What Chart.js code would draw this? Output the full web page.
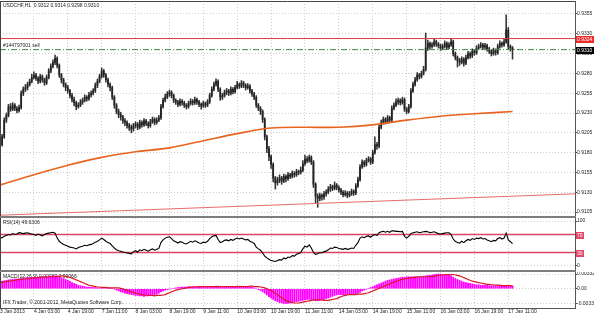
<!DOCTYPE html>
<html>
<head>
<meta charset="utf-8">
<script src="https://cdn.jsdelivr.net/npm/chart.js@4.4.0/dist/chart.umd.min.js"></script>
<style>
  html, body { margin: 0; padding: 0; background: #fff; }
  #wrap { position: relative; width: 594px; height: 316px; overflow: hidden; background: #fff; }
  canvas { position: absolute; left: 0; }
  .sep { position: absolute; left: 0; width: 576px; height: 2px; background: #7d7d7d; }
</style>
</head>
<body>
<div id="wrap">
  <canvas id="priceChart" style="top:0" width="594" height="216"></canvas>
  <div class="sep" style="top:216px"></div>
  <canvas id="rsiChart" style="top:218px" width="594" height="52"></canvas>
  <div class="sep" style="top:270px"></div>
  <canvas id="macdChart" style="top:272px" width="594" height="44"></canvas>
</div>
<script>
// USDCHF H1, 3 Jan 2013 - 17 Jan 2013, one entry per hourly bar
const symbol = 'USDCHF,H1';
const tickLabels = ['3 Jan 2013', '4 Jan 03:00', '4 Jan 19:00', '7 Jan 11:00', '8 Jan 03:00', '8 Jan 19:00',
    '9 Jan 11:00', '10 Jan 03:00', '10 Jan 19:00', '11 Jan 11:00', '14 Jan 03:00', '14 Jan 19:00',
    '15 Jan 11:00', '16 Jan 03:00', '16 Jan 19:00', '17 Jan 11:00'];
const barsPerTick = 16;
const priceTicks = [0.9105, 0.9130, 0.9155, 0.9180, 0.9205, 0.9230, 0.9255, 0.9280, 0.9305, 0.9330, 0.9355];

const opens = [
    0.9196, 0.9190, 0.9200, 0.9221, 0.9227, 0.9238, 0.9235, 0.9240, 0.9236, 0.9233,
    0.9237, 0.9255, 0.9260, 0.9262, 0.9266, 0.9270, 0.9275, 0.9278, 0.9274, 0.9270,
    0.9276, 0.9272, 0.9268, 0.9275, 0.9283, 0.9289, 0.9294, 0.9299, 0.9290, 0.9278,
    0.9272, 0.9266, 0.9262, 0.9258, 0.9252, 0.9247, 0.9243, 0.9238, 0.9240, 0.9244,
    0.9246, 0.9250, 0.9248, 0.9253, 0.9255, 0.9258, 0.9265, 0.9270, 0.9276, 0.9283,
    0.9278, 0.9272, 0.9266, 0.9262, 0.9250, 0.9240, 0.9232, 0.9228, 0.9225, 0.9220,
    0.9218, 0.9214, 0.9212, 0.9210, 0.9214, 0.9216, 0.9212, 0.9218, 0.9215, 0.9220,
    0.9217, 0.9214, 0.9219, 0.9222, 0.9218, 0.9221, 0.9224, 0.9238, 0.9246, 0.9250,
    0.9254, 0.9256, 0.9252, 0.9246, 0.9244, 0.9241, 0.9245, 0.9243, 0.9240, 0.9238,
    0.9242, 0.9245, 0.9243, 0.9247, 0.9244, 0.9241, 0.9239, 0.9242, 0.9240, 0.9244,
    0.9252, 0.9260, 0.9266, 0.9270, 0.9260, 0.9250, 0.9252, 0.9256, 0.9258, 0.9255,
    0.9260, 0.9257, 0.9262, 0.9266, 0.9264, 0.9268, 0.9265, 0.9262, 0.9264, 0.9258,
    0.9254, 0.9250, 0.9240, 0.9236, 0.9232, 0.9222, 0.9200, 0.9185, 0.9175, 0.9165,
    0.9148, 0.9142, 0.9145, 0.9148, 0.9144, 0.9150, 0.9147, 0.9152, 0.9150, 0.9154,
    0.9152, 0.9156, 0.9155, 0.9158, 0.9166, 0.9172, 0.9170, 0.9174, 0.9168, 0.9140,
    0.9125, 0.9122, 0.9126, 0.9124, 0.9128, 0.9130, 0.9134, 0.9137, 0.9135, 0.9139,
    0.9136, 0.9133, 0.9130, 0.9127, 0.9129, 0.9126, 0.9128, 0.9131, 0.9129, 0.9138,
    0.9146, 0.9162, 0.9168, 0.9165, 0.9170, 0.9172, 0.9168, 0.9180, 0.9190, 0.9188,
    0.9212, 0.9218, 0.9222, 0.9219, 0.9224, 0.9221, 0.9236, 0.9240, 0.9244, 0.9246,
    0.9243, 0.9247, 0.9235, 0.9232, 0.9238, 0.9258, 0.9266, 0.9272, 0.9278, 0.9276,
    0.9280, 0.9285, 0.9312, 0.9318, 0.9314, 0.9316, 0.9320, 0.9317, 0.9315, 0.9312,
    0.9314, 0.9318, 0.9313, 0.9316, 0.9320, 0.9305, 0.9300, 0.9296, 0.9294, 0.9298,
    0.9293, 0.9300, 0.9305, 0.9302, 0.9308, 0.9306, 0.9312, 0.9314, 0.9316, 0.9313,
    0.9315, 0.9311, 0.9308, 0.9305, 0.9309, 0.9306, 0.9314, 0.9318, 0.9316, 0.9320,
    0.9335, 0.9314, 0.9312
];
const highs = [
    0.9199, 0.9203, 0.9224, 0.9230, 0.9241, 0.9242, 0.9243, 0.9242, 0.9238, 0.9240,
    0.9258, 0.9263, 0.9266, 0.9269, 0.9273, 0.9279, 0.9282, 0.9280, 0.9276, 0.9279,
    0.9278, 0.9274, 0.9278, 0.9286, 0.9292, 0.9297, 0.9303, 0.9301, 0.9292, 0.9280,
    0.9274, 0.9268, 0.9265, 0.9260, 0.9255, 0.9250, 0.9245, 0.9243, 0.9247, 0.9249,
    0.9253, 0.9252, 0.9256, 0.9258, 0.9261, 0.9268, 0.9273, 0.9279, 0.9287, 0.9285,
    0.9280, 0.9274, 0.9268, 0.9264, 0.9252, 0.9242, 0.9235, 0.9231, 0.9227, 0.9223,
    0.9220, 0.9217, 0.9215, 0.9217, 0.9219, 0.9218, 0.9221, 0.9220, 0.9223, 0.9222,
    0.9219, 0.9222, 0.9225, 0.9224, 0.9224, 0.9227, 0.9241, 0.9249, 0.9254, 0.9257,
    0.9259, 0.9258, 0.9254, 0.9248, 0.9246, 0.9248, 0.9247, 0.9245, 0.9242, 0.9245,
    0.9248, 0.9247, 0.9250, 0.9249, 0.9246, 0.9243, 0.9245, 0.9244, 0.9247, 0.9255,
    0.9263, 0.9269, 0.9273, 0.9272, 0.9262, 0.9255, 0.9259, 0.9261, 0.9260, 0.9263,
    0.9262, 0.9265, 0.9270, 0.9268, 0.9271, 0.9270, 0.9267, 0.9267, 0.9266, 0.9260,
    0.9256, 0.9252, 0.9242, 0.9238, 0.9234, 0.9224, 0.9202, 0.9188, 0.9177, 0.9167,
    0.9150, 0.9149, 0.9152, 0.9150, 0.9153, 0.9152, 0.9155, 0.9154, 0.9157, 0.9156,
    0.9159, 0.9158, 0.9162, 0.9170, 0.9177, 0.9175, 0.9177, 0.9176, 0.9170, 0.9142,
    0.9128, 0.9129, 0.9128, 0.9131, 0.9133, 0.9137, 0.9140, 0.9139, 0.9143, 0.9141,
    0.9138, 0.9135, 0.9132, 0.9132, 0.9131, 0.9131, 0.9134, 0.9133, 0.9141, 0.9149,
    0.9165, 0.9171, 0.9170, 0.9173, 0.9175, 0.9174, 0.9183, 0.9200, 0.9193, 0.9215,
    0.9221, 0.9225, 0.9224, 0.9227, 0.9226, 0.9239, 0.9243, 0.9248, 0.9249, 0.9248,
    0.9250, 0.9249, 0.9237, 0.9241, 0.9261, 0.9269, 0.9275, 0.9281, 0.9280, 0.9283,
    0.9289, 0.9331, 0.9322, 0.9320, 0.9319, 0.9323, 0.9322, 0.9319, 0.9317, 0.9317,
    0.9321, 0.9320, 0.9319, 0.9324, 0.9322, 0.9307, 0.9302, 0.9299, 0.9301, 0.9300,
    0.9303, 0.9308, 0.9307, 0.9311, 0.9310, 0.9315, 0.9317, 0.9319, 0.9318, 0.9318,
    0.9317, 0.9313, 0.9310, 0.9312, 0.9311, 0.9317, 0.9321, 0.9320, 0.9323, 0.9354,
    0.9338, 0.9316, 0.9314
];
const lows = [
    0.9183, 0.9188, 0.9198, 0.9218, 0.9225, 0.9232, 0.9233, 0.9233, 0.9230, 0.9231,
    0.9235, 0.9252, 0.9257, 0.9259, 0.9264, 0.9268, 0.9273, 0.9271, 0.9267, 0.9268,
    0.9269, 0.9265, 0.9266, 0.9273, 0.9281, 0.9287, 0.9291, 0.9287, 0.9275, 0.9268,
    0.9263, 0.9258, 0.9255, 0.9249, 0.9244, 0.9239, 0.9234, 0.9236, 0.9238, 0.9241,
    0.9244, 0.9245, 0.9246, 0.9250, 0.9253, 0.9256, 0.9262, 0.9268, 0.9274, 0.9275,
    0.9269, 0.9263, 0.9258, 0.9247, 0.9236, 0.9229, 0.9224, 0.9221, 0.9217, 0.9214,
    0.9211, 0.9208, 0.9205, 0.9207, 0.9211, 0.9209, 0.9210, 0.9212, 0.9213, 0.9214,
    0.9211, 0.9212, 0.9217, 0.9215, 0.9216, 0.9219, 0.9222, 0.9236, 0.9244, 0.9248,
    0.9251, 0.9249, 0.9243, 0.9241, 0.9238, 0.9239, 0.9240, 0.9237, 0.9235, 0.9236,
    0.9240, 0.9240, 0.9241, 0.9241, 0.9238, 0.9235, 0.9237, 0.9237, 0.9238, 0.9242,
    0.9250, 0.9258, 0.9264, 0.9257, 0.9246, 0.9247, 0.9250, 0.9253, 0.9252, 0.9253,
    0.9254, 0.9255, 0.9260, 0.9261, 0.9262, 0.9262, 0.9259, 0.9260, 0.9255, 0.9251,
    0.9247, 0.9237, 0.9233, 0.9228, 0.9218, 0.9196, 0.9180, 0.9170, 0.9160, 0.9143,
    0.9134, 0.9139, 0.9142, 0.9140, 0.9142, 0.9143, 0.9145, 0.9147, 0.9148, 0.9149,
    0.9150, 0.9152, 0.9153, 0.9156, 0.9164, 0.9167, 0.9168, 0.9165, 0.9136, 0.9116,
    0.9111, 0.9119, 0.9120, 0.9121, 0.9125, 0.9128, 0.9131, 0.9132, 0.9133, 0.9133,
    0.9130, 0.9127, 0.9124, 0.9125, 0.9123, 0.9124, 0.9126, 0.9126, 0.9127, 0.9136,
    0.9144, 0.9160, 0.9162, 0.9163, 0.9168, 0.9165, 0.9166, 0.9178, 0.9184, 0.9186,
    0.9210, 0.9216, 0.9216, 0.9217, 0.9218, 0.9219, 0.9234, 0.9238, 0.9241, 0.9240,
    0.9241, 0.9232, 0.9229, 0.9230, 0.9236, 0.9256, 0.9264, 0.9270, 0.9273, 0.9274,
    0.9278, 0.9283, 0.9309, 0.9311, 0.9312, 0.9314, 0.9314, 0.9312, 0.9309, 0.9310,
    0.9312, 0.9310, 0.9311, 0.9314, 0.9302, 0.9297, 0.9288, 0.9290, 0.9292, 0.9289,
    0.9291, 0.9298, 0.9299, 0.9300, 0.9303, 0.9304, 0.9310, 0.9312, 0.9310, 0.9311,
    0.9308, 0.9305, 0.9302, 0.9303, 0.9303, 0.9304, 0.9312, 0.9313, 0.9314, 0.9318,
    0.9310, 0.9308, 0.9298
];
const closes = [
    0.9190, 0.9200, 0.9221, 0.9227, 0.9238, 0.9235, 0.9240, 0.9236, 0.9233, 0.9237,
    0.9255, 0.9260, 0.9262, 0.9266, 0.9270, 0.9275, 0.9278, 0.9274, 0.9270, 0.9276,
    0.9272, 0.9268, 0.9275, 0.9283, 0.9289, 0.9294, 0.9299, 0.9290, 0.9278, 0.9272,
    0.9266, 0.9262, 0.9258, 0.9252, 0.9247, 0.9243, 0.9238, 0.9240, 0.9244, 0.9246,
    0.9250, 0.9248, 0.9253, 0.9255, 0.9258, 0.9265, 0.9270, 0.9276, 0.9283, 0.9278,
    0.9272, 0.9266, 0.9262, 0.9250, 0.9240, 0.9232, 0.9228, 0.9225, 0.9220, 0.9218,
    0.9214, 0.9212, 0.9210, 0.9214, 0.9216, 0.9212, 0.9218, 0.9215, 0.9220, 0.9217,
    0.9214, 0.9219, 0.9222, 0.9218, 0.9221, 0.9224, 0.9238, 0.9246, 0.9250, 0.9254,
    0.9256, 0.9252, 0.9246, 0.9244, 0.9241, 0.9245, 0.9243, 0.9240, 0.9238, 0.9242,
    0.9245, 0.9243, 0.9247, 0.9244, 0.9241, 0.9239, 0.9242, 0.9240, 0.9244, 0.9252,
    0.9260, 0.9266, 0.9270, 0.9260, 0.9250, 0.9252, 0.9256, 0.9258, 0.9255, 0.9260,
    0.9257, 0.9262, 0.9266, 0.9264, 0.9268, 0.9265, 0.9262, 0.9264, 0.9258, 0.9254,
    0.9250, 0.9240, 0.9236, 0.9232, 0.9222, 0.9200, 0.9185, 0.9175, 0.9165, 0.9148,
    0.9142, 0.9145, 0.9148, 0.9144, 0.9150, 0.9147, 0.9152, 0.9150, 0.9154, 0.9152,
    0.9156, 0.9155, 0.9158, 0.9166, 0.9172, 0.9170, 0.9174, 0.9168, 0.9140, 0.9125,
    0.9122, 0.9126, 0.9124, 0.9128, 0.9130, 0.9134, 0.9137, 0.9135, 0.9139, 0.9136,
    0.9133, 0.9130, 0.9127, 0.9129, 0.9126, 0.9128, 0.9131, 0.9129, 0.9138, 0.9146,
    0.9162, 0.9168, 0.9165, 0.9170, 0.9172, 0.9168, 0.9180, 0.9190, 0.9188, 0.9212,
    0.9218, 0.9222, 0.9219, 0.9224, 0.9221, 0.9236, 0.9240, 0.9244, 0.9246, 0.9243,
    0.9247, 0.9235, 0.9232, 0.9238, 0.9258, 0.9266, 0.9272, 0.9278, 0.9276, 0.9280,
    0.9285, 0.9312, 0.9318, 0.9314, 0.9316, 0.9320, 0.9317, 0.9315, 0.9312, 0.9314,
    0.9318, 0.9313, 0.9316, 0.9320, 0.9305, 0.9300, 0.9296, 0.9294, 0.9298, 0.9293,
    0.9300, 0.9305, 0.9302, 0.9308, 0.9306, 0.9312, 0.9314, 0.9316, 0.9313, 0.9315,
    0.9311, 0.9308, 0.9305, 0.9309, 0.9306, 0.9314, 0.9318, 0.9316, 0.9320, 0.9335,
    0.9314, 0.9312, 0.9310
];

// moving average (read every 16 bars) and the long trend line
const maBars = [0, 16, 32, 48, 64, 80, 96, 112, 128, 144, 160, 176, 192, 208, 224, 242];
const maValues = [0.9139, 0.9152, 0.9164, 0.9174, 0.9181, 0.9186, 0.9195, 0.9204,
    0.9211, 0.9212, 0.9212, 0.9215, 0.9221, 0.9226, 0.9229, 0.9232];
const trendBars = [0, 272];
const trendValues = [0.9101, 0.9128];

// open order
const orderLabel = '#144797001 sell';
const orderPrice = 0.9310;
const stopPrice = 0.9324;

const rsi = [
    62, 63, 66, 68, 70, 69, 72, 70, 71, 74,
    73, 72, 73, 74, 72, 71, 70, 68, 71, 69,
    67, 70, 72, 73, 74, 75, 73, 62, 55, 51,
    48, 46, 44, 42, 41, 40, 38, 41, 43, 44,
    46, 45, 47, 48, 50, 53, 55, 58, 62, 59,
    55, 52, 50, 45, 40, 36, 34, 33, 31, 30,
    29, 28, 27, 32, 34, 31, 36, 34, 37, 35,
    33, 36, 38, 35, 37, 39, 52, 58, 62, 64,
    65, 61, 56, 54, 51, 54, 53, 50, 49, 52,
    55, 53, 56, 54, 51, 50, 53, 52, 55, 61,
    65, 67, 68, 59, 52, 54, 57, 58, 56, 59,
    57, 60, 62, 60, 62, 60, 58, 59, 55, 53,
    50, 42, 38, 35, 29, 22, 18, 15, 12, 11,
    10, 12, 14, 13, 18, 16, 20, 19, 23, 22,
    26, 28, 30, 38, 44, 42, 47, 40, 30, 26,
    27, 30, 29, 32, 33, 36, 40, 39, 42, 41,
    39, 38, 37, 39, 37, 38, 40, 39, 46, 52,
    62, 65, 63, 66, 67, 64, 68, 70, 68, 74,
    76, 77, 75, 77, 75, 78, 78, 77, 77, 76,
    77, 66, 62, 66, 72, 74, 75, 76, 74, 75,
    76, 77, 76, 74, 75, 76, 74, 72, 71, 72,
    73, 74, 74, 70, 60, 55, 52, 51, 55, 52,
    56, 59, 57, 61, 59, 62, 61, 63, 60, 61,
    58, 56, 54, 57, 56, 61, 63, 60, 62, 73,
    58, 54, 49.6306
];
const rsiLevels = [70, 30];

const macdHist = [
    0.0016, 0.0017, 0.0018, 0.0019, 0.0020, 0.0021, 0.0021, 0.0022, 0.0022, 0.0022,
    0.0023, 0.0024, 0.0024, 0.0025, 0.0025, 0.0026, 0.0026, 0.0026, 0.0026, 0.0027,
    0.0027, 0.0027, 0.0027, 0.0028, 0.0028, 0.0029, 0.0029, 0.0028, 0.0027, 0.0025,
    0.0023, 0.0021, 0.0019, 0.0017, 0.0014, 0.0012, 0.0010, 0.0008, 0.0007, 0.0006,
    0.0005, 0.0004, 0.0004, 0.0003, 0.0003, 0.0003, 0.0002, 0.0002, 0.0002, 0.0003,
    0.0003, 0.0003, 0.0002, 0.0001, -0.0001, -0.0003, -0.0005, -0.0007, -0.0008, -0.0010,
    -0.0011, -0.0012, -0.0013, -0.0014, -0.0015, -0.0015, -0.0016, -0.0016, -0.0017, -0.0016,
    -0.0016, -0.0015, -0.0015, -0.0014, -0.0012, -0.0010, -0.0007, -0.0005, -0.0003, -0.0002,
    -0.0001, 0.0000, 0.0001, 0.0002, 0.0003, 0.0003, 0.0004, 0.0004, 0.0004, 0.0005,
    0.0005, 0.0005, 0.0005, 0.0005, 0.0005, 0.0005, 0.0004, 0.0004, 0.0004, 0.0005,
    0.0005, 0.0005, 0.0006, 0.0006, 0.0005, 0.0005, 0.0005, 0.0005, 0.0005, 0.0005,
    0.0005, 0.0005, 0.0006, 0.0006, 0.0006, 0.0005, 0.0005, 0.0005, 0.0004, 0.0003,
    0.0002, 0.0000, -0.0002, -0.0004, -0.0007, -0.0010, -0.0014, -0.0018, -0.0021, -0.0024,
    -0.0027, -0.0029, -0.0031, -0.0032, -0.00331, -0.00331, -0.0033, -0.0032, -0.0031, -0.0030,
    -0.0029, -0.0028, -0.0027, -0.0026, -0.0025, -0.0024, -0.0024, -0.0025, -0.0026, -0.0027,
    -0.0027, -0.0026, -0.0025, -0.0024, -0.0022, -0.0021, -0.0019, -0.0017, -0.0015, -0.0014,
    -0.0013, -0.0013, -0.0013, -0.0013, -0.0013, -0.0012, -0.0012, -0.0012, -0.0011, -0.0010,
    -0.0008, -0.0005, -0.0003, -0.0001, 0.0001, 0.0003, 0.0005, 0.0007, 0.0009, 0.0011,
    0.0013, 0.0015, 0.0017, 0.0019, 0.0020, 0.0021, 0.0022, 0.0023, 0.0024, 0.0025,
    0.0026, 0.0026, 0.0027, 0.0027, 0.0027, 0.0027, 0.0027, 0.0027, 0.0027, 0.0028,
    0.0028, 0.0029, 0.0030, 0.0030, 0.0031, 0.0032, 0.0033, 0.00332, 0.0033, 0.00325,
    0.0032, 0.0031, 0.0031, 0.0029, 0.0026, 0.0023, 0.0021, 0.0019, 0.0017, 0.0015,
    0.0014, 0.0013, 0.0012, 0.0011, 0.0010, 0.0009, 0.0009, 0.0008, 0.0008, 0.0008,
    0.0008, 0.0007, 0.0007, 0.0007, 0.0007, 0.0007, 0.0007, 0.0006, 0.0006, 0.0006,
    0.0006, 0.0007, 0.00062
];
const macdSignal = [
    0.0014, 0.0015, 0.0015, 0.0016, 0.0017, 0.0017, 0.0018, 0.0019, 0.0020, 0.0021,
    0.0021, 0.0022, 0.0022, 0.0022, 0.0023, 0.0024, 0.0024, 0.0025, 0.0025, 0.0026,
    0.0026, 0.0026, 0.0026, 0.0027, 0.0027, 0.0027, 0.0027, 0.0028, 0.0028, 0.0029,
    0.0029, 0.0028, 0.0027, 0.0026, 0.0024, 0.0022, 0.0020, 0.0018, 0.0016, 0.0014,
    0.0012, 0.0010, 0.0008, 0.0007, 0.0006, 0.0005, 0.0004, 0.0004, 0.0003, 0.0003,
    0.0003, 0.0002, 0.0002, 0.0002, 0.0002, 0.0002, 0.0002, 0.0001, 0.0000, -0.0002,
    -0.0004, -0.0005, -0.0007, -0.0008, -0.0010, -0.0011, -0.0012, -0.0013, -0.0014, -0.0014,
    -0.0015, -0.0015, -0.0015, -0.0016, -0.0015, -0.0015, -0.0015, -0.0014, -0.0013, -0.0011,
    -0.0009, -0.0007, -0.0005, -0.0003, -0.0002, -0.0001, 0.0000, 0.0001, 0.0002, 0.0003,
    0.0003, 0.0004, 0.0004, 0.0004, 0.0005, 0.0005, 0.0005, 0.0005, 0.0005, 0.0005,
    0.0005, 0.0005, 0.0005, 0.0005, 0.0005, 0.0005, 0.0005, 0.0005, 0.0005, 0.0005,
    0.0005, 0.0005, 0.0005, 0.0005, 0.0005, 0.0005, 0.0005, 0.0005, 0.0006, 0.0006,
    0.0005, 0.0005, 0.0005, 0.0004, 0.0003, 0.0002, 0.0000, -0.0002, -0.0004, -0.0007,
    -0.0010, -0.0013, -0.0017, -0.0020, -0.0023, -0.0026, -0.0028, -0.0030, -0.0031, -0.0032,
    -0.0032, -0.0032, -0.0031, -0.0030, -0.0029, -0.0028, -0.0027, -0.0026, -0.0025, -0.0025,
    -0.0025, -0.0025, -0.0025, -0.0026, -0.0026, -0.0026, -0.0025, -0.0024, -0.0023, -0.0022,
    -0.0020, -0.0018, -0.0016, -0.0015, -0.0014, -0.0013, -0.0013, -0.0013, -0.0013, -0.0012,
    -0.0012, -0.0012, -0.0011, -0.0010, -0.0009, -0.0007, -0.0005, -0.0003, -0.0001, 0.0001,
    0.0003, 0.0005, 0.0007, 0.0009, 0.0011, 0.0013, 0.0015, 0.0017, 0.0018, 0.0020,
    0.0021, 0.0022, 0.0023, 0.0024, 0.0025, 0.0025, 0.0026, 0.0026, 0.0027, 0.0027,
    0.0027, 0.0027, 0.0027, 0.0027, 0.0028, 0.0028, 0.0029, 0.0030, 0.0031, 0.0031,
    0.0032, 0.0032, 0.0032, 0.0032, 0.0032, 0.0031, 0.0030, 0.0029, 0.0027, 0.0025,
    0.0023, 0.0021, 0.0019, 0.0017, 0.0016, 0.0015, 0.0014, 0.0013, 0.0012, 0.0011,
    0.0010, 0.0010, 0.0009, 0.0009, 0.0008, 0.0008, 0.0008, 0.0007, 0.0007, 0.0007,
    0.0007, 0.0007, 0.00066
];
const macdTicks = [-0.00331, 0, 0.00332];
const macdTickLabels = ['-0.00331', '0.00', '0.00332'];

// ---- look ----
const FONT = "'Liberation Sans', Arial, sans-serif";
const GRID = '#cdcdcd';
const TEXT = '#1c1c1c';
const AXIS_W = 19;
const xMax = 271.5;
const last = closes.length - 1;

function xScale(showLabels) {
    return {
        type: 'linear', min: 0, max: xMax, offset: false,
        afterBuildTicks: function (s) {
            s.ticks = tickLabels.map(function (t, j) { return { value: j * barsPerTick }; });
        },
        ticks: {
            display: showLabels, autoSkip: false, maxRotation: 0, minRotation: 0, align: 'start',
            padding: 0, color: TEXT, font: { family: FONT, size: 5 },
            callback: function (v) { return tickLabels[Math.round(v / barsPerTick)]; }
        },
        grid: { color: GRID, offset: false, drawTicks: showLabels, tickLength: 1, tickColor: '#444', tickBorderDash: [] },
        border: { display: showLabels, color: '#555', dash: [1, 2] },
        afterFit: function (s) { s.height = showLabels ? 8 : 0; s.paddingLeft = 0; s.paddingRight = 0; }
    };
}

function yScale(min, max, tickValues, fmt) {
    return {
        position: 'right', min: min, max: max,
        afterBuildTicks: function (s) { s.ticks = tickValues.map(function (v) { return { value: v }; }); },
        ticks: { padding: 0, color: TEXT, font: { family: FONT, size: 5 }, callback: fmt },
        grid: { color: GRID, tickLength: 2, tickColor: '#444', tickBorderDash: [] },
        border: { display: true, color: '#555', width: 1, dash: [1, 2] },
        afterFit: function (s) { s.width = AXIS_W; s.paddingTop = 0; s.paddingBottom = 0; }
    };
}

function frame(ctx) {
    ctx.save();
    ctx.fillStyle = '#ffffff';
    ctx.fillRect(0, 0, ctx.canvas.width, ctx.canvas.height);
    ctx.restore();
}

function edgeLines(chart, withTop) {
    const ctx = chart.ctx, a = chart.chartArea;
    ctx.save();
    ctx.strokeStyle = '#444';
    ctx.lineWidth = 1;
    ctx.beginPath();
    ctx.moveTo(0.5, a.top);
    ctx.lineTo(0.5, a.bottom);
    if (withTop) { ctx.moveTo(0, a.top + 0.5); ctx.lineTo(a.right, a.top + 0.5); }
    ctx.stroke();
    ctx.restore();
}

function axisBox(ctx, y, text, bg, fg, w) {
    ctx.fillStyle = bg;
    ctx.fillRect(576, Math.round(y) - 3, w, 7);
    ctx.fillStyle = fg;
    ctx.textBaseline = 'middle';
    ctx.textAlign = 'left';
    ctx.fillText(text, 577, Math.round(y) + 0.5);
}

const common = {
    responsive: false, animation: false, devicePixelRatio: 1, events: [],
    plugins: { legend: { display: false }, tooltip: { enabled: false } }
};

// ---- price window ----
const priceOverlay = {
    id: 'priceOverlay',
    beforeDraw: function (chart) { frame(chart.ctx); },
    afterDraw: function (chart) {
        const ctx = chart.ctx, y = chart.scales.y;
        edgeLines(chart, true);
        ctx.save();
        ctx.font = '5px ' + FONT;
        ctx.fillStyle = TEXT;
        ctx.textBaseline = 'middle';
        const ohlc = [opens[last], highs[last], lows[last], closes[last]].map(function (v) { return v.toFixed(4); });
        ctx.fillText(symbol + '  ' + ohlc.join(' '), 3, 5.5);
        ctx.fillText(orderLabel, 3, y.getPixelForValue(orderPrice) - 4.5);
        axisBox(ctx, y.getPixelForValue(stopPrice), stopPrice.toFixed(4), '#ee2b2b', '#ffffff', 18);
        axisBox(ctx, y.getPixelForValue(closes[last]), closes[last].toFixed(4), '#000000', '#ffffff', 18);
        ctx.restore();
    }
};

new Chart(document.getElementById('priceChart'), {
    type: 'bar',
    data: {
        datasets: [
            {
                type: 'line', data: [{ x: 0, y: stopPrice }, { x: xMax, y: stopPrice }],
                borderColor: '#e23a3a', borderWidth: 1, pointRadius: 0
            },
            {
                type: 'line', data: [{ x: 0, y: orderPrice }, { x: xMax, y: orderPrice }],
                borderColor: '#3c8a3c', borderWidth: 1, borderDash: [6, 2, 1, 2], pointRadius: 0
            },
            {
                type: 'line', data: maBars.map(function (b, k) { return { x: b, y: maValues[k] }; }),
                borderColor: '#e8641e', borderWidth: 1.6, pointRadius: 0, tension: 0.3
            },
            {
                type: 'line', data: trendBars.map(function (b, k) { return { x: b, y: trendValues[k] }; }),
                borderColor: '#e86a6a', borderWidth: 1, pointRadius: 0
            },
            {
                data: closes.map(function (c, i) { return { x: i, y: [opens[i], c] }; }),
                backgroundColor: '#222', barThickness: 1.1, grouped: false, borderWidth: 0
            },
            {
                data: closes.map(function (c, i) { return { x: i, y: [lows[i], highs[i]] }; }),
                backgroundColor: '#333', barThickness: 0.9, grouped: false, borderWidth: 0
            }
        ]
    },
    options: Object.assign({}, common, {
        layout: { padding: { top: 1 } },
        scales: {
            x: xScale(false),
            y: yScale(0.9100, 0.93714, priceTicks, function (v) { return v.toFixed(4); })
        }
    }),
    plugins: [priceOverlay]
});

// ---- RSI window ----
const rsiOverlay = {
    id: 'rsiOverlay',
    beforeDraw: function (chart) { frame(chart.ctx); },
    afterDraw: function (chart) {
        const ctx = chart.ctx, y = chart.scales.y;
        edgeLines(chart, false);
        ctx.save();
        ctx.font = '5px ' + FONT;
        ctx.fillStyle = TEXT;
        ctx.textBaseline = 'middle';
        ctx.fillText('RSI(14) ' + rsi[last].toFixed(4), 3, 4.5);
        rsiLevels.forEach(function (lv) {
            axisBox(ctx, y.getPixelForValue(lv), String(lv), '#e2486a', '#ffffff', 8);
        });
        ctx.restore();
    }
};

new Chart(document.getElementById('rsiChart'), {
    type: 'line',
    data: {
        datasets: [
            {
                data: rsi.map(function (v, i) { return { x: i, y: v }; }),
                borderColor: '#000', borderWidth: 1.1, pointRadius: 0, tension: 0
            }
        ].concat(rsiLevels.map(function (lv) {
            return {
                data: [{ x: 0, y: lv }, { x: xMax, y: lv }],
                borderColor: '#dc4466', borderWidth: 1.5, pointRadius: 0
            };
        }))
    },
    options: Object.assign({}, common, {
        scales: {
            x: xScale(false),
            y: yScale(-8.9, 106.7, [0, 100], function (v) { return String(v); })
        }
    }),
    plugins: [rsiOverlay]
});

// ---- MACD window ----
const macdOverlay = {
    id: 'macdOverlay',
    beforeDraw: function (chart) { frame(chart.ctx); },
    beforeDatasetsDraw: function (chart) {
        const ctx = chart.ctx;
        ctx.save();
        ctx.font = '5px ' + FONT;
        ctx.fillStyle = TEXT;
        ctx.textBaseline = 'middle';
        ctx.fillText('MACD(12,26,9) ' + macdHist[last].toFixed(5) + ' ' + macdSignal[last].toFixed(5), 3, 4.5);
        ctx.fillText('IFX Trader, \u00A9 2001-2012, MetaQuotes Software Corp.', 3, 30.5);
        ctx.restore();
    },
    afterDraw: function (chart) { edgeLines(chart, false); }
};

new Chart(document.getElementById('macdChart'), {
    type: 'bar',
    data: {
        datasets: [
            {
                type: 'line', data: macdSignal.map(function (v, i) { return { x: i, y: v }; }),
                borderColor: '#d91a2a', borderWidth: 1.2, pointRadius: 0
            },
            {
                data: macdHist.map(function (v, i) { return { x: i, y: v }; }),
                backgroundColor: '#ff00ff', barThickness: 1.2, borderWidth: 0
            }
        ]
    },
    options: Object.assign({}, common, {
        scales: {
            x: xScale(true),
            y: yScale(-0.00432, 0.00377, macdTicks, function (v) {
                return macdTickLabels[macdTicks.indexOf(v)];
            })
        }
    }),
    plugins: [macdOverlay]
});
</script>
</body>
</html>
